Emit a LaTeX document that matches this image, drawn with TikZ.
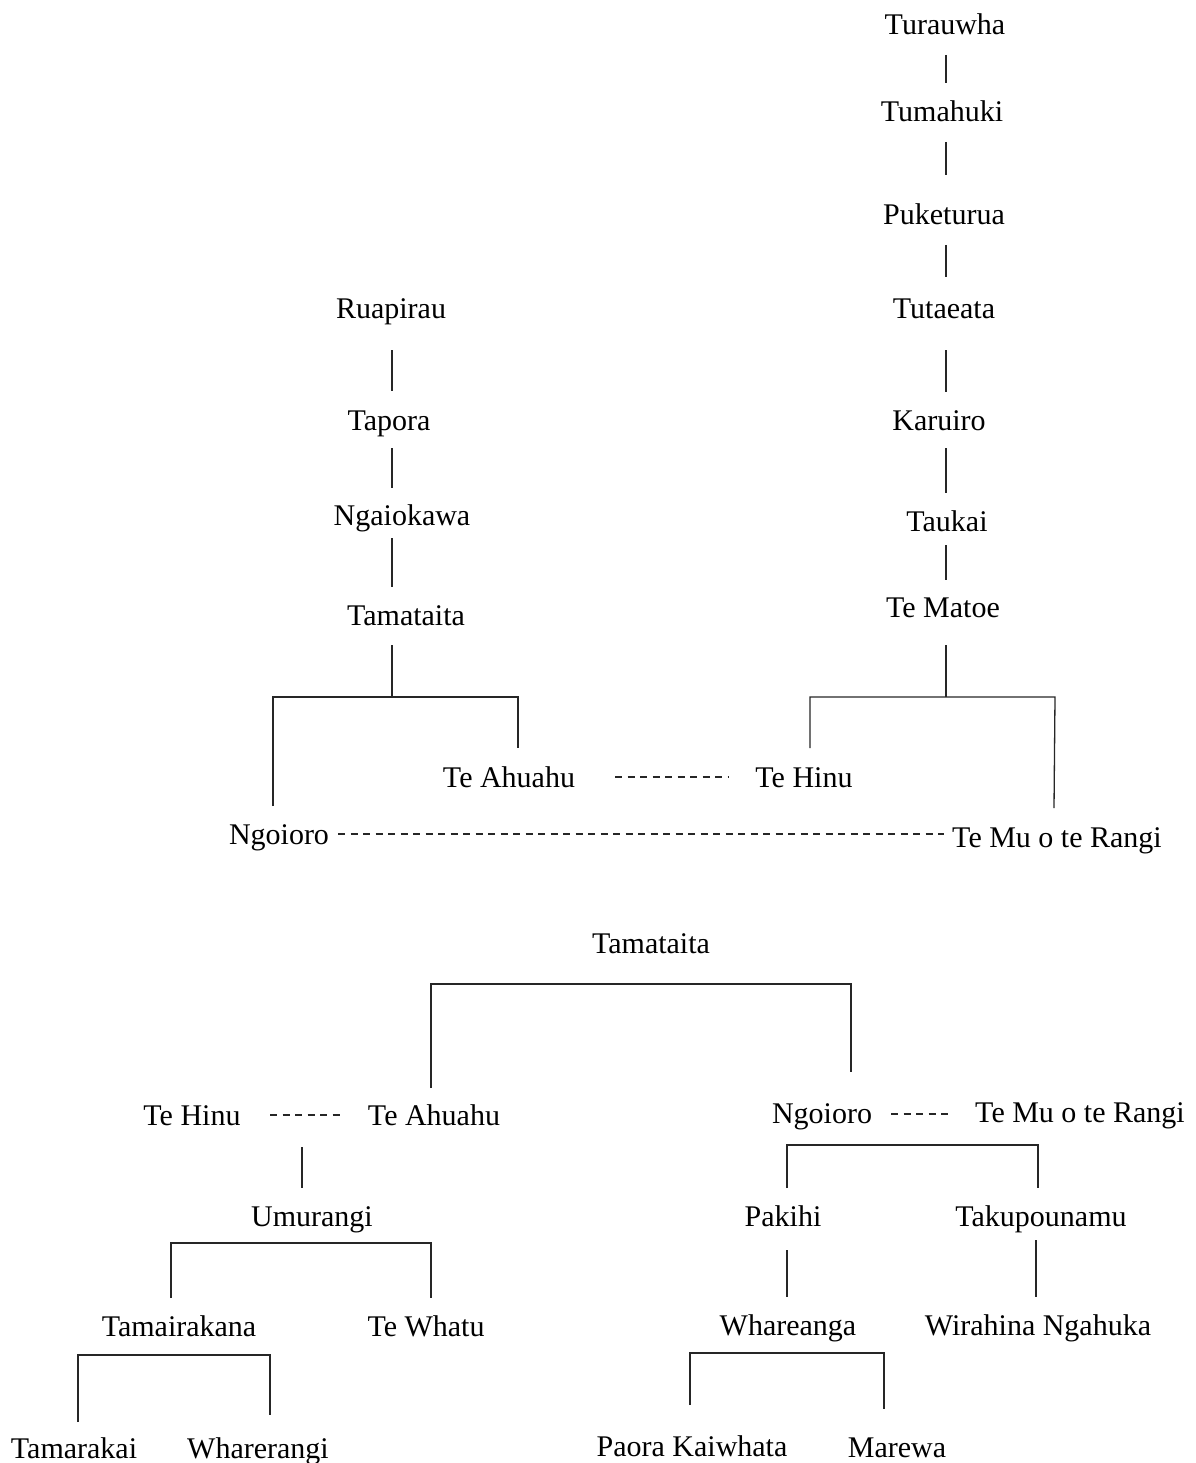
\documentclass[tikz,border=0pt]{standalone}
\usepackage{fontspec}
\setmainfont{Liberation Serif}
\begin{document}
\begin{tikzpicture}[x=1pt,y=-1pt,
  person/.style={font=\fontsize{30}{36}\selectfont, inner sep=0pt, anchor=base},
  link/.style={line width=1.3pt, black!85},
  marriage/.style={line width=1.2pt, black!85, dash pattern=on 7pt off 5.5pt}]
\useasboundingbox (0,0) rectangle (1195,1463);

% ---------- upper chart: the two lines of descent ----------
\node[person] (turauwha)   at (945,35)   {Turauwha};
\node[person] (tumahuki)   at (942,122)  {Tumahuki};
\node[person] (puketurua)  at (944,225)  {Puketurua};
\node[person] (tutaeata)   at (944,318)  {Tutaeata};
\node[person] (karuiro)    at (939,430)  {Karuiro};
\node[person] (taukai)     at (947,531)  {Taukai};
\node[person] (tematoe)    at (943,617)  {Te Matoe};
\node[person] (tehinuA)    at (804,787)  {Te Hinu};
\node[person] (temuA)      at (1057,847) {Te Mu o te Rangi};

\node[person] (ruapirau)   at (391,318)  {Ruapirau};
\node[person] (tapora)     at (389,430)  {Tapora};
\node[person] (ngaiokawa)  at (402,525)  {Ngaiokawa};
\node[person] (tamataitaA) at (406,625)  {Tamataita};
\node[person] (teahuahuA)  at (509,787)  {Te Ahuahu};
\node[person] (ngoioroA)   at (279,844)  {Ngoioro};

% ---------- lower chart: descendants of Tamataita ----------
\node[person] (tamataitaB) at (651,953)  {Tamataita};
\node[person] (tehinuB)    at (192,1125) {Te Hinu};
\node[person] (teahuahuB)  at (434,1125) {Te Ahuahu};
\node[person] (umurangi)   at (312,1226) {Umurangi};
\node[person] (tamairakana) at (179,1336) {Tamairakana};
\node[person] (tewhatu)    at (426,1336) {Te Whatu};
\node[person] (tamarakai)  at (74,1458)  {Tamarakai};
\node[person] (wharerangi) at (258,1458) {Wharerangi};

\node[person] (ngoioroB)   at (822,1123) {Ngoioro};
\node[person] (temuB)      at (1080,1122) {Te Mu o te Rangi};
\node[person] (pakihi)     at (783,1226) {Pakihi};
\node[person] (takupounamu) at (1041,1226) {Takupounamu};
\node[person] (whareanga)  at (788,1335) {Whareanga};
\node[person] (wirahina)   at (1038,1335) {Wirahina Ngahuka};
\node[person] (paora)      at (692,1456) {Paora Kaiwhata};
\node[person] (marewa)     at (897,1457) {Marewa};

% ---------- line ends and bracket corners ----------
% Turauwha line
\coordinate (r1a) at (946,55);  \coordinate (r1b) at (946,83);
\coordinate (r2a) at (946,142); \coordinate (r2b) at (946,175);
\coordinate (r3a) at (946,245); \coordinate (r3b) at (946,277);
\coordinate (r4a) at (946,350); \coordinate (r4b) at (946,392);
\coordinate (r5a) at (946,448); \coordinate (r5b) at (946,493);
\coordinate (r6a) at (946,545); \coordinate (r6b) at (946,580);
\coordinate (r7a) at (946,645); \coordinate (r7b) at (946,697);
\coordinate (rbl) at (810,697); \coordinate (rbr) at (1055,697);
\coordinate (rdl) at (810,748); \coordinate (rdr) at (1054,808);
% Ruapirau line
\coordinate (l1a) at (392,350); \coordinate (l1b) at (392,391);
\coordinate (l2a) at (392,448); \coordinate (l2b) at (392,488);
\coordinate (l3a) at (392,538); \coordinate (l3b) at (392,587);
\coordinate (l4a) at (392,645); \coordinate (l4b) at (392,697);
\coordinate (lbl) at (273,697); \coordinate (lbr) at (518,697);
\coordinate (ldl) at (273,806); \coordinate (ldr) at (518,748);
% marriages, upper chart
\coordinate (m1a) at (615,777); \coordinate (m1b) at (728,777);
\coordinate (m2a) at (338,834); \coordinate (m2b) at (944,834);
% Tamataita's children
\coordinate (tbl) at (431,984); \coordinate (tbr) at (851,984);
\coordinate (tdl) at (431,1088); \coordinate (tdr) at (851,1072);
% Te Hinu -- Te Ahuahu family
\coordinate (m3a) at (270,1115); \coordinate (m3b) at (343,1115);
\coordinate (u1a) at (302,1147); \coordinate (u1b) at (302,1188);
\coordinate (ubl) at (171,1243); \coordinate (ubr) at (431,1243);
\coordinate (udl) at (171,1298); \coordinate (udr) at (431,1298);
\coordinate (kbl) at (78,1355);  \coordinate (kbr) at (270,1355);
\coordinate (kdl) at (78,1422);  \coordinate (kdr) at (270,1415);
% Ngoioro -- Te Mu o te Rangi family
\coordinate (m4a) at (891,1114); \coordinate (m4b) at (950,1114);
\coordinate (nbl) at (787,1145); \coordinate (nbr) at (1038,1145);
\coordinate (ndl) at (787,1188); \coordinate (ndr) at (1038,1188);
\coordinate (p1a) at (787,1250); \coordinate (p1b) at (787,1297);
\coordinate (q1a) at (1036,1240); \coordinate (q1b) at (1036,1297);
\coordinate (wbl) at (690,1353); \coordinate (wbr) at (884,1353);
\coordinate (wdl) at (690,1405); \coordinate (wdr) at (884,1409);

% ---------- descent lines ----------
\draw[link] (r1a) -- (r1b);
\draw[link] (r2a) -- (r2b);
\draw[link] (r3a) -- (r3b);
\draw[link] (r4a) -- (r4b);
\draw[link] (r5a) -- (r5b);
\draw[link] (r6a) -- (r6b);
\draw[link] (r7a) -- (r7b);
\draw[link] (rdl) -- (rbl) -- (rbr) -- (rdr);

\draw[link] (l1a) -- (l1b);
\draw[link] (l2a) -- (l2b);
\draw[link] (l3a) -- (l3b);
\draw[link] (l4a) -- (l4b);
\draw[link] (ldl) -- (lbl) -- (lbr) -- (ldr);

\draw[link] (tdl) -- (tbl) -- (tbr) -- (tdr);
\draw[link] (u1a) -- (u1b);
\draw[link] (udl) -- (ubl) -- (ubr) -- (udr);
\draw[link] (kdl) -- (kbl) -- (kbr) -- (kdr);

\draw[link] (ndl) -- (nbl) -- (nbr) -- (ndr);
\draw[link] (p1a) -- (p1b);
\draw[link] (q1a) -- (q1b);
\draw[link] (wdl) -- (wbl) -- (wbr) -- (wdr);

% ---------- marriages ----------
\draw[marriage] (m1a) -- (m1b);
\draw[marriage] (m2a) -- (m2b);
\draw[marriage] (m3a) -- (m3b);
\draw[marriage] (m4a) -- (m4b);
\end{tikzpicture}
\end{document}
